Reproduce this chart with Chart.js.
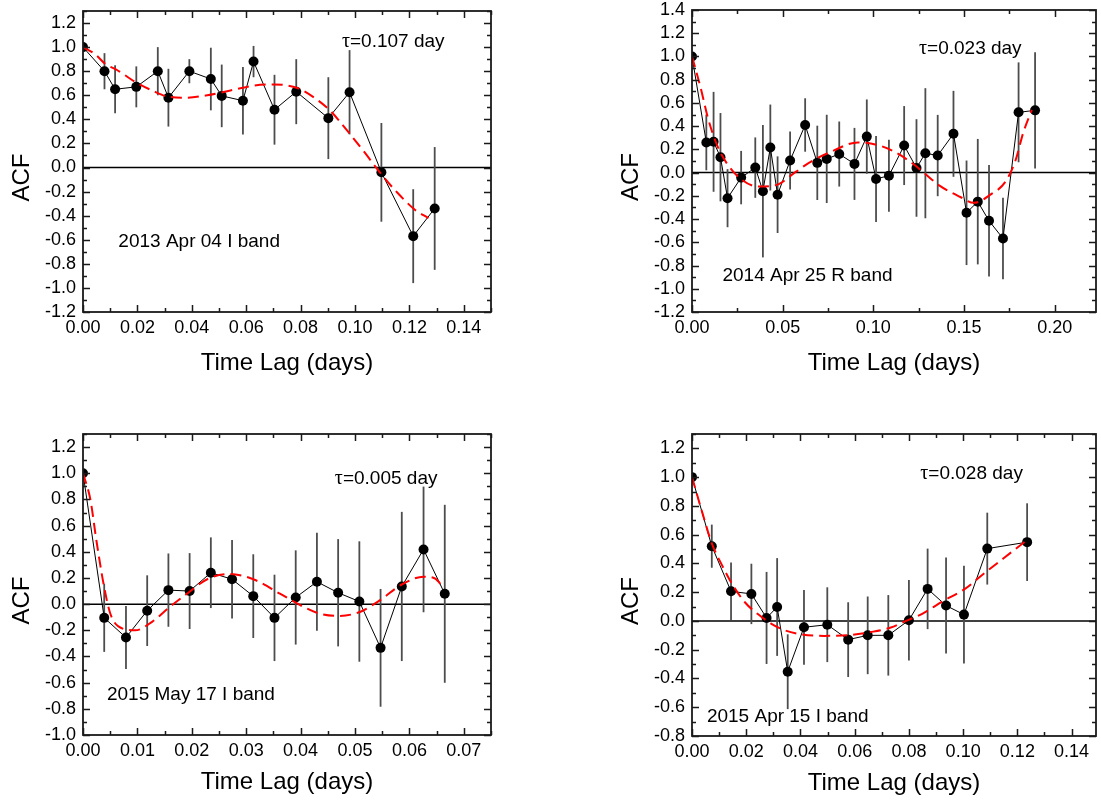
<!DOCTYPE html>
<html><head><meta charset="utf-8">
<script src="https://cdn.jsdelivr.net/npm/chart.js@4.4.1/dist/chart.umd.min.js"></script>
<style>
html,body{margin:0;padding:0;background:#fff;}
#wrap{position:relative;width:1101px;height:806px;overflow:hidden;background:#fff;}
canvas{position:absolute;}
</style></head><body><div id="wrap">
<canvas id="c1"></canvas><canvas id="c2"></canvas><canvas id="c3"></canvas><canvas id="c4"></canvas>
</div>
<script>
// ---------- Panel 1: 2013 Apr 04 I band ----------
const p1Lag = [0, 0.0079, 0.0118, 0.0196, 0.0275, 0.0314, 0.0391, 0.0470, 0.0510, 0.0588, 0.0627, 0.0704, 0.0784, 0.0902, 0.0980, 0.1097, 0.1214, 0.1293];
const p1Acf = [1.0, 0.80, 0.65, 0.67, 0.80, 0.58, 0.80, 0.735, 0.595, 0.555, 0.88, 0.48, 0.63, 0.41, 0.625, -0.04, -0.57, -0.34];
const p1Err = [0, 0.15, 0.20, 0.17, 0.20, 0.24, 0.10, 0.26, 0.26, 0.28, 0.13, 0.29, 0.27, 0.34, 0.35, 0.41, 0.39, 0.51];
const p1FitLag = [0, 0.0045, 0.0082, 0.0125, 0.0193, 0.0254, 0.031, 0.0377, 0.0457, 0.0542, 0.0628, 0.070, 0.0788, 0.085, 0.091, 0.097, 0.103, 0.1095, 0.1156, 0.122, 0.127];
const p1FitAcf = [1.0, 0.94, 0.86, 0.81, 0.71, 0.64, 0.59, 0.58, 0.60, 0.64, 0.68, 0.69, 0.66, 0.58, 0.47, 0.31, 0.14, -0.05, -0.21, -0.35, -0.42];
const p1XTicks = [0, 0.02, 0.04, 0.06, 0.08, 0.10, 0.12, 0.14];
const p1YTicks = [-1.2, -1.0, -0.8, -0.6, -0.4, -0.2, 0, 0.2, 0.4, 0.6, 0.8, 1.0, 1.2];

// ---------- Panel 2: 2014 Apr 25 R band ----------
const p2Lag = [0, 0.0079, 0.0119, 0.0157, 0.0196, 0.0271, 0.0349, 0.0391, 0.0432, 0.0472, 0.0541, 0.0624, 0.0691, 0.0743, 0.0812, 0.0896, 0.0964, 0.1015, 0.1086, 0.1170, 0.1238, 0.1287, 0.1355, 0.1442, 0.1514, 0.1576, 0.1638, 0.1715, 0.1801, 0.1892];
const p2Acf = [1.0, 0.26, 0.265, 0.133, -0.22, -0.043, 0.043, -0.16, 0.216, -0.19, 0.104, 0.41, 0.084, 0.118, 0.16, 0.075, 0.31, -0.055, -0.026, 0.233, 0.04, 0.167, 0.147, 0.334, -0.346, -0.25, -0.415, -0.567, 0.519, 0.536];
const p2Err = [0, 0.24, 0.43, 0.38, 0.25, 0.23, 0.26, 0.57, 0.37, 0.33, 0.25, 0.23, 0.32, 0.38, 0.28, 0.31, 0.32, 0.37, 0.31, 0.34, 0.42, 0.56, 0.35, 0.37, 0.45, 0.54, 0.48, 0.35, 0.43, 0.50];
const p2FitLag = [0, 0.0046, 0.0088, 0.0137, 0.0192, 0.0265, 0.0366, 0.0457, 0.0576, 0.064, 0.0768, 0.0914, 0.104, 0.1115, 0.1198, 0.1271, 0.1363, 0.148, 0.1554, 0.1646, 0.1728, 0.1783, 0.1828, 0.1874];
const p2FitAcf = [1.0, 0.74, 0.47, 0.24, 0.08, -0.05, -0.12, -0.11, 0.01, 0.08, 0.18, 0.26, 0.23, 0.18, 0.10, 0.01, -0.11, -0.21, -0.26, -0.19, -0.08, 0.10, 0.35, 0.54];
const p2XTicks = [0, 0.05, 0.10, 0.15, 0.20];
const p2YTicks = [-1.2, -1.0, -0.8, -0.6, -0.4, -0.2, 0, 0.2, 0.4, 0.6, 0.8, 1.0, 1.2, 1.4];

// ---------- Panel 3: 2015 May 17 I band ----------
const p3Lag = [0, 0.0039, 0.0079, 0.0118, 0.0157, 0.0196, 0.0235, 0.0274, 0.0313, 0.0352, 0.0391, 0.0430, 0.0469, 0.0508, 0.0547, 0.0586, 0.0626, 0.0665];
const p3Acf = [1.0, -0.105, -0.255, -0.05, 0.107, 0.10, 0.24, 0.19, 0.061, -0.105, 0.051, 0.171, 0.087, 0.02, -0.334, 0.135, 0.418, 0.079];
const p3Err = [0, 0.26, 0.24, 0.27, 0.28, 0.29, 0.27, 0.30, 0.32, 0.33, 0.36, 0.375, 0.41, 0.46, 0.45, 0.57, 0.48, 0.68];
const p3FitLag = [0, 0.00135, 0.00245, 0.0038, 0.005, 0.0065, 0.0096, 0.0127, 0.016, 0.0188, 0.0231, 0.027, 0.0313, 0.0362, 0.0405, 0.0433, 0.047, 0.0509, 0.0546, 0.0586, 0.0626, 0.0647, 0.0662];
const p3FitAcf = [1.0, 0.80, 0.49, 0.15, -0.07, -0.17, -0.20, -0.135, -0.02, 0.07, 0.196, 0.23, 0.19, 0.08, -0.02, -0.07, -0.09, -0.06, 0.03, 0.15, 0.21, 0.196, 0.13];
const p3XTicks = [0, 0.01, 0.02, 0.03, 0.04, 0.05, 0.06, 0.07];
const p3YTicks = [-1.0, -0.8, -0.6, -0.4, -0.2, 0, 0.2, 0.4, 0.6, 0.8, 1.0, 1.2];

// ---------- Panel 4: 2015 Apr 15 I band ----------
const p4Lag = [0, 0.0073, 0.0144, 0.0219, 0.0275, 0.0314, 0.0353, 0.0413, 0.0499, 0.0576, 0.0648, 0.0724, 0.0800, 0.0869, 0.0937, 0.1003, 0.1089, 0.1236];
const p4Acf = [1.0, 0.52, 0.206, 0.188, 0.021, 0.097, -0.353, -0.044, -0.026, -0.13, -0.10, -0.10, 0.005, 0.223, 0.107, 0.044, 0.503, 0.548];
const p4Err = [0, 0.15, 0.20, 0.21, 0.32, 0.34, 0.26, 0.26, 0.26, 0.26, 0.27, 0.28, 0.28, 0.28, 0.334, 0.34, 0.25, 0.27];
const p4FitLag = [0, 0.0037, 0.0073, 0.011, 0.0147, 0.0195, 0.0244, 0.0293, 0.0342, 0.0403, 0.0488, 0.0586, 0.066, 0.0733, 0.0781, 0.0849, 0.0928, 0.1008, 0.1069, 0.1148, 0.1234];
const p4FitAcf = [1.0, 0.76, 0.54, 0.39, 0.26, 0.13, 0.046, -0.02, -0.065, -0.093, -0.104, -0.097, -0.077, -0.046, -0.007, 0.05, 0.14, 0.225, 0.318, 0.434, 0.56];
const p4XTicks = [0, 0.02, 0.04, 0.06, 0.08, 0.10, 0.12, 0.14];
const p4YTicks = [-0.8, -0.6, -0.4, -0.2, 0, 0.2, 0.4, 0.6, 0.8, 1.0, 1.2];

const panelTau = ['0.107', '0.023', '0.005', '0.028'];
const panelLabel = ['2013 Apr 04 I band', '2014 Apr 25 R band', '2015 May 17 I band', '2015 Apr 15 I band'];

const FONT = '"Liberation Sans", Arial, Helvetica, sans-serif';
const SERIF = '"Liberation Serif", "Times New Roman", serif';

const panels = [
  {id:'c1', box:[0,0,550,400], plot:[83,11,491,312], titleGap:58, xMin:0, xMax:0.15, yMin:-1.2, yMax:1.3, xTicks:p1XTicks, yTicks:p1YTicks, xMinor:0.01, yMinor:0.1, xDec:2,
   lag:p1Lag, acf:p1Acf, err:p1Err, fitLag:p1FitLag, fitAcf:p1FitAcf, tau:panelTau[0], tauPos:[0.0952,1.0], label:panelLabel[0], labelPos:[0.013,-0.66]},
  {id:'c2', box:[550,0,551,400], plot:[692,10,1098,312], titleGap:58, xMin:0, xMax:0.2228, yMin:-1.2, yMax:1.4, xTicks:p2XTicks, yTicks:p2YTicks, xMinor:0.025, yMinor:0.1, xDec:2,
   lag:p2Lag, acf:p2Acf, err:p2Err, fitLag:p2FitLag, fitAcf:p2FitAcf, tau:panelTau[1], tauPos:[0.1252,1.023], label:panelLabel[1], labelPos:[0.0168,-0.936]},
  {id:'c3', box:[0,403,550,403], plot:[83,434,491,735], titleGap:54, xMin:0, xMax:0.075, yMin:-1.0, yMax:1.3, xTicks:p3XTicks, yTicks:p3YTicks, xMinor:0.005, yMinor:0.1, xDec:2,
   lag:p3Lag, acf:p3Acf, err:p3Err, fitLag:p3FitLag, fitAcf:p3FitAcf, tau:panelTau[2], tauPos:[0.0463,0.916], label:panelLabel[2], labelPos:[0.0044,-0.735]},
  {id:'c4', box:[550,403,551,403], plot:[692,434,1098,736], titleGap:54, xMin:0, xMax:0.149, yMin:-0.8, yMax:1.3, xTicks:p4XTicks, yTicks:p4YTicks, xMinor:0.01, yMinor:0.1, xDec:2,
   lag:p4Lag, acf:p4Acf, err:p4Err, fitLag:p4FitLag, fitAcf:p4FitAcf, tau:panelTau[3], tauPos:[0.0842,0.984], label:panelLabel[3], labelPos:[0.0055,-0.703]}
];

function isMajor(v, list) { return list.some(t => Math.abs(t - v) < 1e-9); }

function makePlugin(p) {
  return {
    id: 'acfDecor',
    beforeDatasetsDraw(chart) {
      const {ctx, chartArea: a, scales: {x, y}} = chart;
      ctx.save();
      const y0 = y.getPixelForValue(0);
      ctx.strokeStyle = '#000'; ctx.lineWidth = 1.5;
      ctx.beginPath(); ctx.moveTo(a.left, y0); ctx.lineTo(a.right, y0); ctx.stroke();
      ctx.strokeStyle = '#4d4d4d'; ctx.lineWidth = 1.8;
      p.lag.forEach((t, i) => {
        const e = p.err[i]; if (!e) return;
        const px = x.getPixelForValue(t);
        ctx.beginPath();
        ctx.moveTo(px, y.getPixelForValue(p.acf[i] + e));
        ctx.lineTo(px, y.getPixelForValue(p.acf[i] - e));
        ctx.stroke();
      });
      ctx.restore();
    },
    afterDraw(chart) {
      const {ctx, chartArea: a, scales: {x, y}} = chart;
      ctx.save();
      ctx.strokeStyle = '#1a1a1a'; ctx.lineWidth = 1.5;
      const kx0 = Math.ceil(p.xMin / p.xMinor - 1e-9), kx1 = Math.floor(p.xMax / p.xMinor + 1e-9);
      ctx.beginPath();
      for (let k = kx0; k <= kx1; k++) {
        const v = k * p.xMinor, px = Math.round(x.getPixelForValue(v)) + 0.5;
        const len = isMajor(v, p.xTicks) ? 7 : 4;
        ctx.moveTo(px, a.bottom); ctx.lineTo(px, a.bottom - len);
        ctx.moveTo(px, a.top); ctx.lineTo(px, a.top + len);
      }
      const ky0 = Math.ceil(p.yMin / p.yMinor - 1e-9), ky1 = Math.floor(p.yMax / p.yMinor + 1e-9);
      for (let k = ky0; k <= ky1; k++) {
        const v = k * p.yMinor, py = Math.round(y.getPixelForValue(v)) + 0.5;
        const len = isMajor(v, p.yTicks) ? 7 : 4;
        ctx.moveTo(a.left, py); ctx.lineTo(a.left + len, py);
        ctx.moveTo(a.right, py); ctx.lineTo(a.right - len, py);
      }
      ctx.stroke();
      ctx.lineWidth = 1.8;
      ctx.strokeRect(a.left, a.top, a.right - a.left, a.bottom - a.top);
      ctx.fillStyle = '#000';
      ctx.textBaseline = 'alphabetic'; ctx.textAlign = 'left';
      let tx = x.getPixelForValue(p.tauPos[0]), ty = y.getPixelForValue(p.tauPos[1]);
      ctx.font = '20px ' + SERIF;
      ctx.fillText('\u03C4', tx, ty);
      tx += ctx.measureText('\u03C4').width;
      ctx.font = '19px ' + FONT;
      ctx.fillText('=' + p.tau + ' day', tx, ty);
      ctx.fillText(p.label, x.getPixelForValue(p.labelPos[0]), y.getPixelForValue(p.labelPos[1]));
      ctx.font = '24px ' + FONT;
      ctx.textAlign = 'center';
      ctx.fillText('Time Lag (days)', (a.left + a.right) / 2, a.bottom + p.titleGap);
      ctx.translate(a.left - 54, (a.top + a.bottom) / 2 + 16);
      ctx.rotate(-Math.PI / 2);
      ctx.fillText('ACF', 0, 0);
      ctx.restore();
    }
  };
}

panels.forEach(p => {
  const cv = document.getElementById(p.id);
  const [cx, cy, cw, ch] = p.box;
  const [L, T, R, B] = p.plot;
  cv.width = cw; cv.height = ch;
  cv.style.left = cx + 'px'; cv.style.top = cy + 'px';
  cv.style.width = cw + 'px'; cv.style.height = ch + 'px';
  new Chart(cv, {
    type: 'line',
    data: {
      datasets: [
        {
          data: p.fitLag.map((t, i) => ({x: t, y: p.fitAcf[i]})),
          borderColor: '#ff0000', borderWidth: 2, borderDash: [11, 6],
          pointRadius: 0, fill: false, cubicInterpolationMode: 'monotone'
        },
        {
          data: p.lag.map((t, i) => ({x: t, y: p.acf[i]})),
          borderColor: '#000', borderWidth: 1, tension: 0, fill: false,
          pointRadius: 5, pointBackgroundColor: '#000', pointBorderColor: '#000', pointBorderWidth: 0,
          clip: {left: 0, top: 20, right: 20, bottom: 20}
        }
      ]
    },
    options: {
      responsive: false, animation: false, devicePixelRatio: 1, events: [],
      layout: {padding: {left: 0, top: T - cy, right: cx + cw - R, bottom: 0}},
      plugins: {legend: {display: false}, tooltip: {enabled: false}},
      scales: {
        x: {
          type: 'linear', min: p.xMin, max: p.xMax,
          grid: {display: false, drawTicks: false}, border: {display: false},
          ticks: {autoSkip: false, maxRotation: 0, minRotation: 0, padding: 5, color: '#000',
                  font: {family: FONT, size: 18}, callback: v => Number(v).toFixed(p.xDec)},
          afterBuildTicks: s => { s.ticks = p.xTicks.map(v => ({value: v})); },
          afterFit: s => { s.height = cy + ch - B; s.paddingLeft = 0; s.paddingRight = 0; }
        },
        y: {
          type: 'linear', min: p.yMin, max: p.yMax,
          grid: {display: false, drawTicks: false}, border: {display: false},
          ticks: {autoSkip: false, padding: 7, color: '#000',
                  font: {family: FONT, size: 18}, callback: v => Number(v).toFixed(1)},
          afterBuildTicks: s => { s.ticks = p.yTicks.map(v => ({value: v})); },
          afterFit: s => { s.width = L - cx; s.paddingTop = 0; s.paddingBottom = 0; }
        }
      }
    },
    plugins: [makePlugin(p)]
  });
});
</script>
</body></html>
